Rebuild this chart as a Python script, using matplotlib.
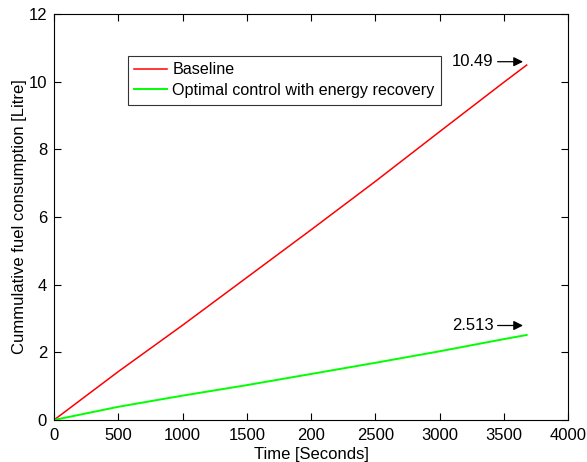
import matplotlib.pyplot as plt
import numpy as np

plt.rcParams["font.family"] = ["Liberation Sans", "DejaVu Sans"]

# Values
time_s = [0, 500, 1000, 1500, 2000, 2500, 3000, 3500, 3678]
baseline = [0, 1.43, 2.80, 4.21, 5.62, 7.05, 8.52, 9.98, 10.49]
optimal = [0, 0.39, 0.72, 1.03, 1.36, 1.69, 2.03, 2.39, 2.513]

labels = ["Baseline", "Optimal control with energy recovery"]
end_labels = ["10.49", "2.513"]
x_ticks = [0, 500, 1000, 1500, 2000, 2500, 3000, 3500, 4000]
x_ticklabels = ["0", "500", "1000", "1500", "200", "2500", "3000", "3500", "4000"]
y_ticks = [0, 2, 4, 6, 8, 10, 12]

fs = 12

fig = plt.figure(figsize=(5.87, 4.62), dpi=100)
ax = fig.add_axes([54 / 587, 42 / 462, 514 / 587, 406 / 462])

ax.plot(time_s, baseline, color="#ff0000", linewidth=1.1, label=labels[0])
ax.plot(time_s, optimal, color="#00ff00", linewidth=1.4, label=labels[1])

## Arrow annotations at the end of each line
for val, txt, dy in [(baseline[-1], end_labels[0], 0.1), (optimal[-1], end_labels[1], 0.28)]:
    ax.annotate(
        txt,
        xy=(3650, val + dy),
        xytext=(3420, val + dy),
        ha="right",
        va="center",
        fontsize=fs,
        arrowprops=dict(arrowstyle="-|>", color="k", lw=0.9, shrinkA=1, shrinkB=0, mutation_scale=14),
    )

ax.set_xlim(0, 4000)
ax.set_ylim(0, 12)
ax.set_xticks(x_ticks)
ax.set_xticklabels(x_ticklabels)
ax.set_yticks(y_ticks)
ax.tick_params(direction="in", top=True, right=True, length=5, labelsize=fs, width=0.8)
ax.tick_params(axis="x", pad=6)
ax.tick_params(axis="y", pad=5)
for s in ax.spines.values():
    s.set_linewidth(0.8)

ax.set_xlabel("Time [Seconds]", fontsize=fs, labelpad=3)
ax.set_ylabel("Cummulative fuel consumption [Litre]", fontsize=fs, labelpad=1)

leg = ax.legend(
    loc="upper left",
    bbox_to_anchor=(74 / 514, 1 - 42 / 406),
    fontsize=11.6,
    frameon=True,
    fancybox=False,
    edgecolor="k",
    handlelength=2.0,
    handletextpad=0.35,
    borderpad=0.4,
    labelspacing=0.35,
    borderaxespad=0,
)
leg.get_frame().set_linewidth(0.8)

fig.savefig("out.png", dpi=100)
